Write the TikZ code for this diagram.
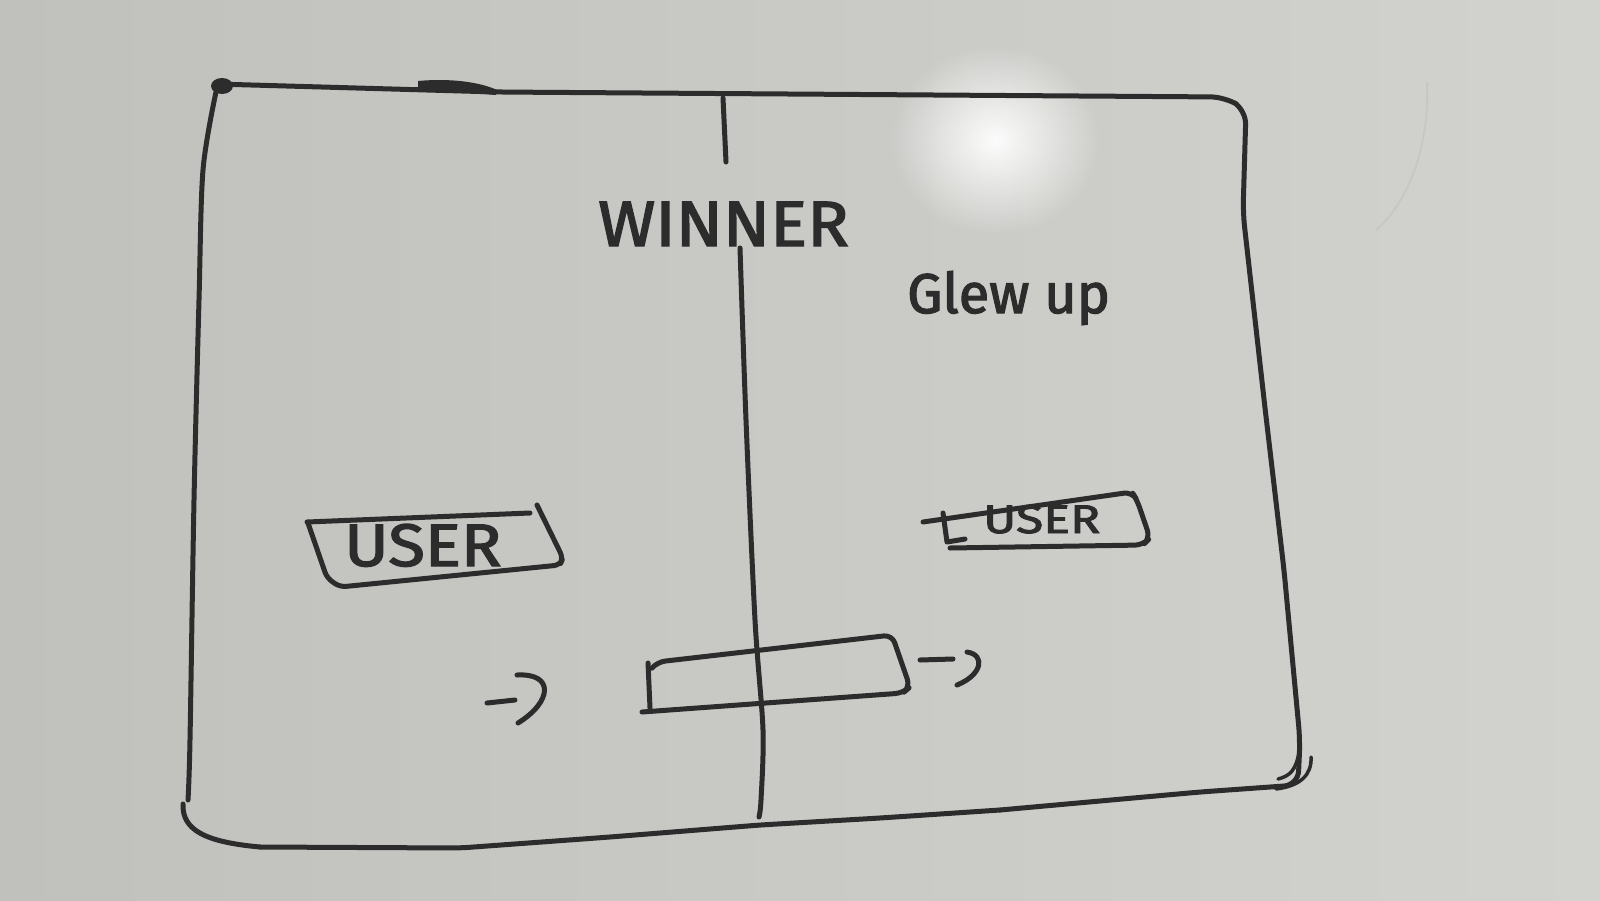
\documentclass[tikz,border=0pt]{standalone}
\usepackage{fontspec}
\setmainfont{Fira Sans}
\newfontfamily\handfont{Fira Sans}[FakeBold=2.2]
\usetikzlibrary{fadings}
\definecolor{board}{RGB}{192,192,188}
\definecolor{boardlight}{RGB}{210,210,207}
\definecolor{ink}{RGB}{44,44,44}
\tikzfading[name=glare, inner color=transparent!0, outer color=transparent!100]
\tikzset{
  pen/.style={draw=ink, line width=5pt, line cap=round, line join=round},
  thinpen/.style={draw=ink, line width=3.5pt, line cap=round, line join=round},
  hand/.style={text=ink, inner sep=0pt, font=\handfont\fontsize{#1}{#1}\selectfont},
  hand/.default=60
}
\begin{document}
\begin{tikzpicture}[x=1pt,y=-1pt]
  % whiteboard surface
  \useasboundingbox (0,0) rectangle (1600,900);
  \shade[left color=board, right color=boardlight] (0,0) rectangle (1600,900);
  \fill[white, path fading=glare, opacity=0.95] (995,140) ellipse (105 and 95);
  \draw[ink!30, line width=2pt, opacity=0.5] (1427,82) .. controls (1430,160) and (1400,210) .. (1376,230);

  % outer frame: top and right strokes
  \draw[pen, rounded corners=14pt] (216,84) -- (497,92) -- (1225,97) -- (1246,110)
      -- (1243,213) -- (1265,408) -- (1284,570) -- (1300,740) -- (1298,785)
      -- (1200,792) -- (1000,810);
  % outer frame: bottom and left strokes
  \draw[pen, rounded corners=10pt] (1000,810) -- (880,818) -- (760,825) -- (610,837)
      -- (460,848) -- (260,847);
  \draw[pen] (260,847) .. controls (205,842) and (182,830) .. (183,804);
  \draw[pen] plot[smooth] coordinates {(188,800) (190,740) (194,500) (199,300) (203,170) (216,92)};
  % heavy ink spots on the frame
  \fill[ink] (222,86) ellipse (11 and 8);
  \fill[ink] (418,81) .. controls (450,78) and (480,82) .. (497,90)
      -- (496,95) .. controls (470,93) and (440,91) .. (418,90) -- cycle;
  % corner hook at bottom right
  \draw[thinpen] (1311,757) .. controls (1312,775) and (1300,786) .. (1276,789);
  \draw[thinpen] (1299,752) .. controls (1296,770) and (1290,776) .. (1278,779);

  % centre divider
  \draw[pen] (723,98) -- (726,162);
  \draw[pen] plot[smooth] coordinates {(740,248) (746,420) (755,620) (763,730) (761,800) (759,817)};

  % labels
  \node[hand=64, anchor=base west, xscale=1.08] (winner) at (598,246) {WINNER};
  \node[hand=56, anchor=base west] (glew) at (907,313) {Glew up};

  % left user box
  \node[hand=60, anchor=base west, xscale=1.12] (userL) at (344,566) {USER};
  \draw[pen, rounded corners=8pt] (307,522) -- (530,513);
  \draw[pen, rounded corners=6pt] (537,505) -- (563,558) -- (560,565) -- (340,587)
      -- (327,578) -- (308,523);

  % right user box
  \node[hand=40, anchor=base west, xscale=1.25] (userR) at (983,533) {USER};
  \draw[pen, rounded corners=8pt] (923,522) -- (1132,492) -- (1137,500) -- (1150,538)
      -- (1143,545) -- (950,548);
  \draw[pen] (943,513) -- (947,542) -- (965,539);

  % bottom box
  \draw[pen, rounded corners=8pt] (652,668) -- (657,662) -- (892,635) -- (910,687)
      -- (903,693) -- (642,712);
  \draw[pen] (648,663) -- (650,708);

  % arrows on either side of the bottom box
  \draw[pen] (487,703) -- (515,700);
  \draw[pen] (517,675) .. controls (555,673) and (552,702) .. (518,723);
  \draw[pen] (920,660) -- (953,659);
  \draw[pen] (967,652) .. controls (986,655) and (982,675) .. (957,685);
\end{tikzpicture}
\end{document}
